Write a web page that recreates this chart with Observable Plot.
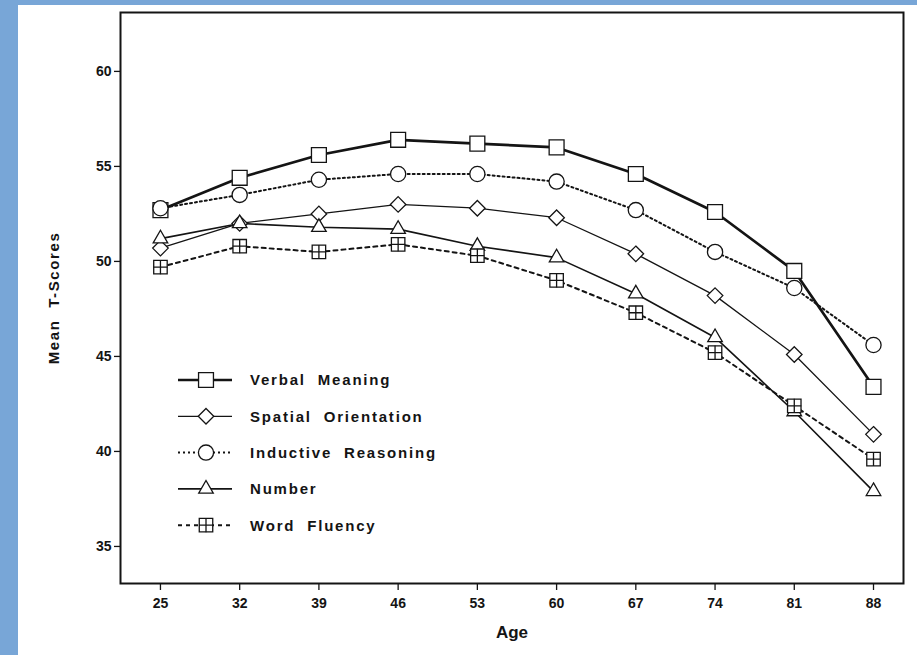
<!DOCTYPE html>
<html><head><meta charset="utf-8">
<script src="https://cdn.jsdelivr.net/npm/d3@7"></script>
<script src="https://cdn.jsdelivr.net/npm/@observablehq/plot@0.6"></script>
<style>
html,body{margin:0;padding:0;background:#78a6d7;width:917px;height:655px;overflow:hidden;}
#wrap{position:absolute;left:18px;top:5px;width:899px;height:650px;background:#fff;}
#wrap svg{position:absolute;left:0;top:0;}
</style></head><body><div id="wrap"></div>
<script>
// ---- data ----
const ages = [25, 32, 39, 46, 53, 60, 67, 74, 81, 88];
const verbalMeaning      = [52.7, 54.4, 55.6, 56.4, 56.2, 56.0, 54.6, 52.6, 49.5, 43.4];
const spatialOrientation = [50.7, 52.0, 52.5, 53.0, 52.8, 52.3, 50.4, 48.2, 45.1, 40.9];
const inductiveReasoning = [52.8, 53.5, 54.3, 54.6, 54.6, 54.2, 52.7, 50.5, 48.6, 45.6];
const numberAbility      = [51.2, 52.0, 51.8, 51.7, 50.8, 50.2, 48.3, 46.0, 42.1, 37.9];
const wordFluency        = [49.7, 50.8, 50.5, 50.9, 50.3, 49.0, 47.3, 45.2, 42.4, 39.6];
const seriesNames = ["Verbal Meaning", "Spatial Orientation", "Inductive Reasoning", "Number", "Word Fluency"];
const seriesValues = [verbalMeaning, spatialOrientation, inductiveReasoning, numberAbility, wordFluency];
const yTicks = [35, 40, 45, 50, 55, 60];

// ---- styles (kept apart from data) ----
const INK = "#141414";
const FONT = "'Liberation Sans', Arial, sans-serif";
const styles = {
  "Verbal Meaning":      {sw: 2.7, dash: null,  sym: "square",   r: 8.4},
  "Spatial Orientation": {sw: 1.3, dash: null,  sym: "diamond2", r: 7.0},
  "Inductive Reasoning": {sw: 2.0, dash: "2,3", sym: "circle",   r: 7.6},
  "Number":              {sw: 1.6, dash: null,  sym: "triangle", r: 5.4},
  "Word Fluency":        {sw: 2.0, dash: "4,4", sym: "boxplus",  r: 7.6}
};

const rows = [];
seriesNames.forEach((name, i) => ages.forEach((a, j) => rows.push({series: name, age: a, score: seriesValues[i][j]})));

const W = 899, H = 650;
const marks = [];
for (const name of seriesNames) {
  const s = styles[name];
  const d = rows.filter(r => r.series === name);
  marks.push(Plot.line(d, {x: "age", y: "score", stroke: INK, strokeWidth: s.sw, strokeDasharray: s.dash}));
}
for (const name of seriesNames) {
  const s = styles[name];
  const d = rows.filter(r => r.series === name);
  if (s.sym === "boxplus") {
    marks.push(Plot.dot(d, {x: "age", y: "score", symbol: "square", r: s.r, fill: "white", stroke: INK, strokeWidth: 1.3}));
    marks.push(Plot.dot(d, {x: "age", y: "score", symbol: "plus", r: 4.6, stroke: INK, strokeWidth: 1.3}));
  } else {
    marks.push(Plot.dot(d, {x: "age", y: "score", symbol: s.sym, r: s.r, fill: "white", stroke: INK, strokeWidth: 1.3}));
  }
}

const chart = Plot.plot({
  width: W, height: H,
  marginLeft: 102, marginRight: 14, marginTop: 7, marginBottom: 72,
  style: {background: "transparent", fontFamily: FONT, color: INK},
  x: {domain: [21.47, 90.65]},
  y: {domain: [33.05, 63.1]},
  marks: [
    Plot.frame({stroke: INK, strokeWidth: 2}),
    Plot.axisX({ticks: ages, tickSize: 7, tickPadding: 8, label: null, fontSize: 14, fontWeight: "bold", stroke: INK, strokeWidth: 1.3}),
    Plot.axisY({ticks: yTicks, tickSize: 6, tickPadding: 3, label: null, fontSize: 14, fontWeight: "bold", stroke: INK, strokeWidth: 1.3}),
    Plot.text(["Age"], {frameAnchor: "bottom", dy: 54, fontSize: 17, fontWeight: "bold", fill: INK}),
    Plot.text(["Mean T-Scores"], {frameAnchor: "left", textAnchor: "middle", rotate: -90, dx: -66, fontSize: 15, fontWeight: "bold", fill: INK}),
    ...marks
  ]
});
document.getElementById("wrap").appendChild(chart);
d3.select(chart).selectAll("text").filter(function() { return this.textContent === "Mean T-Scores"; })
  .attr("letter-spacing", "1.6px").attr("word-spacing", "6px");

// ---- legend overlay ----
const leg = d3.select("#wrap").append("svg").attr("width", W).attr("height", H)
  .style("font-family", FONT);
const lx0 = 160, lx1 = 214, lsx = 188, ltx = 232, ly0 = 375, ldy = 36.3;
seriesNames.forEach((name, i) => {
  const s = styles[name];
  const y = ly0 + i * ldy;
  const g = leg.append("g");
  g.append("line").attr("x1", lx0).attr("x2", lx1).attr("y1", y).attr("y2", y)
    .attr("stroke", INK).attr("stroke-width", s.sw).attr("stroke-dasharray", s.dash);
  const symType = {square: d3.symbolSquare, diamond2: d3.symbolDiamond2, circle: d3.symbolCircle, triangle: d3.symbolTriangle, boxplus: d3.symbolSquare}[s.sym];
  g.append("path").attr("transform", `translate(${lsx},${y})`)
    .attr("d", d3.symbol(symType, Math.PI * s.r * s.r)())
    .attr("fill", "white").attr("stroke", INK).attr("stroke-width", 1.3);
  if (s.sym === "boxplus") {
    g.append("path").attr("transform", `translate(${lsx},${y})`)
      .attr("d", d3.symbol(d3.symbolPlus, Math.PI * 4.6 * 4.6)())
      .attr("fill", "none").attr("stroke", INK).attr("stroke-width", 1.3);
  }
  g.append("text").attr("x", ltx).attr("y", y).attr("dy", "0.36em")
    .attr("font-size", 15).attr("font-weight", "bold").attr("fill", INK)
    .attr("letter-spacing", "1.8px").attr("word-spacing", "6px")
    .text(name);
});
</script>
</body></html>
